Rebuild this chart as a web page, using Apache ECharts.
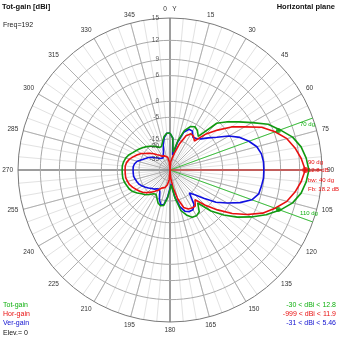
<!DOCTYPE html>
<html><head><meta charset="utf-8">
<script src="https://cdn.jsdelivr.net/npm/echarts@6/dist/echarts.min.js"></script>
<style>html,body{margin:0;padding:0;background:#fff}#c{width:339px;height:339px}</style>
</head><body><div id="c"></div>
<script>
// azimuth angles (deg, clockwise from Y)
const angles = [0,5,10,15,20,25,30,35,40,45,50,55,60,65,70,75,80,85,90,95,100,105,110,115,120,125,130,135,140,145,150,155,160,165,170,175,180,185,190,195,200,205,210,215,220,225,230,235,240,245,250,255,260,265,270,275,280,285,290,295,300,305,310,315,320,325,330,335,340,345,350,355,360];
// gains in dBi
const totGain = [-11.7,-14.4,-25.3,-15.6,-9.3,-6.8,-6.0,-6.8,-8.4,-0.7,1.7,3.8,6.1,8.6,10.1,11.6,12.5,13.0,13.3,13.0,12.5,11.6,10.1,8.2,5.9,3.4,0.4,-3.2,-8.8,-5.6,-4.9,-5.2,-6.8,-9.3,-16.9,-28.7,-28.7,-16.9,-12.2,-11.7,-12.7,-15.0,-16.9,-16.3,-14.4,-12.7,-11.7,-10.2,-8.8,-8.0,-7.6,-7.1,-6.8,-6.8,-6.8,-6.8,-7.1,-7.6,-8.4,-9.7,-10.7,-11.7,-12.7,-13.8,-15.0,-16.3,-17.6,-19.1,-19.1,-16.3,-13.3,-11.7,-11.7];
const horGain = [-999,-40.6,-32.9,-25.3,-16.9,-11.2,-9.3,-9.7,-11.2,-5.6,-1.9,1.7,4.3,7.3,9.2,10.7,11.6,12.3,12.8,12.3,11.6,10.7,9.2,7.5,4.9,1.9,-1.9,-6.0,-10.7,-8.4,-8.4,-8.8,-10.2,-15.6,-25.3,-40.6,-999,-36.4,-28.7,-25.3,-24.2,-23.3,-20.6,-18.3,-16.3,-14.4,-12.7,-11.7,-10.7,-9.7,-8.8,-8.4,-8.0,-8.0,-8.0,-8.0,-8.4,-9.3,-10.7,-12.2,-13.8,-16.3,-18.3,-20.6,-23.3,-25.3,-27.5,-28.7,-28.7,-28.7,-31.4,-40.6,-999];
const verGain = [-11.7,-14.4,-28.7,-16.9,-10.2,-8.0,-8.0,-10.2,-9.7,-8.4,-6.0,-3.5,-0.2,2.2,3.8,5.1,5.7,5.9,5.9,5.9,5.7,5.5,4.5,2.2,-0.7,-3.8,-8.4,-12.7,-15.6,-9.3,-7.6,-7.6,-8.4,-11.2,-17.6,-30.0,-28.7,-17.6,-12.7,-12.2,-15.0,-19.8,-21.5,-20.6,-19.1,-18.3,-16.9,-15.6,-14.4,-13.3,-12.7,-12.2,-11.7,-11.7,-11.7,-11.7,-12.2,-13.3,-15.6,-17.6,-19.1,-21.5,-24.2,-26.3,-28.7,-30.0,-30.0,-28.7,-24.2,-18.3,-13.8,-11.7,-11.7];
// scale rings and their labels (dBi)
const ringDb = [12, 9, 6, 0, -5, -15, -35];
const ringLabels = [15, 12, 9, 6, 0, -5, -15, -20, -35];
// beamwidth / maximum markers
const beamAngles = [70, 110];
const beamDb = [9.8, 9.8];
const peakAngle = 90;
const peakDb = 12.8;

const SCALE_MAX = 15, K = 0.053;
function dbToR(db) { return Math.exp(-K * (SCALE_MAX - db)); }

const FONT = 'Liberation Sans';
const chart = echarts.init(document.getElementById('c'), null, {renderer: 'canvas'});

const circle = [];
for (let a = 0; a <= 360; a += 3) circle.push(a);

function polarDef(i) { return {center: [170, 170], radius: 152}; }
function radiusDef(i) {
  return {polarIndex: i, type: 'value', min: 0, max: 1,
    axisLine: {show: false}, axisTick: {show: false}, axisLabel: {show: false}, splitLine: {show: false}};
}

const series = [];
ringDb.forEach(db => {
  series.push({type: 'line', coordinateSystem: 'polar', polarIndex: 1, silent: true, symbol: 'none',
    data: circle.map(a => [dbToR(db), a]), lineStyle: {color: '#a9a9a9', width: 1}, z: 1});
});
beamAngles.forEach(a => {
  series.push({type: 'line', coordinateSystem: 'polar', polarIndex: 1, silent: true, symbol: 'none',
    data: [[0, a], [dbToR(SCALE_MAX), a]], lineStyle: {color: '#3cc03c', width: 1}, z: 2});
});
series.push({type: 'line', coordinateSystem: 'polar', polarIndex: 1, silent: true, symbol: 'none',
  data: [[0, peakAngle], [dbToR(SCALE_MAX), peakAngle]], lineStyle: {color: '#e8201c', width: 1}, z: 2});

const curves = [[verGain, '#1010e0'], [horGain, '#e81010'], [totGain, '#109a10']];
curves.forEach(([vals, col], i) => {
  series.push({type: 'line', coordinateSystem: 'polar', polarIndex: 1, symbol: 'none',
    data: vals.map((v, j) => [dbToR(v), angles[j]]), lineStyle: {color: col, width: 1.6}, z: 3 + i});
});
series.push({type: 'scatter', coordinateSystem: 'polar', polarIndex: 1, symbolSize: 5,
  itemStyle: {color: '#109a10'}, data: beamAngles.map((a, i) => [dbToR(beamDb[i]), a]), z: 8});
series.push({type: 'scatter', coordinateSystem: 'polar', polarIndex: 1, symbolSize: 6,
  itemStyle: {color: '#e81010'}, data: [[dbToR(peakDb), peakAngle]], z: 8});
series.push({type: 'scatter', coordinateSystem: 'polar', polarIndex: 1, symbolSize: 0, silent: true,
  data: ringLabels.map(v => ({value: [dbToR(v), 0], name: String(v)})),
  label: {show: true, position: 'left', distance: 11, formatter: p => p.name,
    fontSize: 6.5, fontFamily: FONT, color: '#333'}, z: 9});

function txt(text, x, y, color, opts) {
  return Object.assign({type: 'text', x: x, y: y, silent: true, z: 20,
    style: Object.assign({text: text, fill: color, font: '7px "' + FONT + '"',
      textAlign: 'left', textVerticalAlign: 'top', align: 'left', verticalAlign: 'top'}, opts || {})});
}
function rtxt(text, x, y, color, font) {
  return txt(text, x, y, color, {textAlign: 'right', align: 'right', font: font || ('7px "' + FONT + '"')});
}
const small = {font: '6px "' + FONT + '"'};
const bold = {font: 'bold 7.5px "' + FONT + '"'};

chart.setOption({
  animation: false,
  backgroundColor: '#fff',
  polar: [polarDef(0), polarDef(1), polarDef(2)],
  radiusAxis: [radiusDef(0), radiusDef(1), radiusDef(2)],
  angleAxis: [
    {polarIndex: 0, type: 'value', min: 0, max: 360, interval: 5, startAngle: 90, clockwise: true,
      axisLine: {show: false}, axisTick: {show: false}, axisLabel: {show: false},
      splitLine: {show: true, lineStyle: {color: '#e2e2e2', width: 1}}},
    {polarIndex: 1, type: 'value', min: 0, max: 360, interval: 15, startAngle: 90, clockwise: true,
      axisLine: {show: true, lineStyle: {color: '#7a7a7a', width: 1}}, axisTick: {show: false},
      axisLabel: {show: true, margin: 5, fontSize: 6.5, fontFamily: FONT, color: '#333',
        formatter: v => v === 0 ? '0   Y' : String(v)},
      splitLine: {show: true, lineStyle: {color: '#b0b0b0', width: 1}}},
    {polarIndex: 2, type: 'value', min: 0, max: 360, interval: 90, startAngle: 90, clockwise: true,
      axisLine: {show: false}, axisTick: {show: false}, axisLabel: {show: false},
      splitLine: {show: true, lineStyle: {color: '#6a6a6a', width: 1}}}
  ],
  series: series,
  graphic: [
    txt('Tot-gain [dBi]', 2, 3, '#111', bold),
    txt('Freq=192', 3, 22, '#222'),
    rtxt('Horizontal plane', 335, 3, '#111', bold.font),
    txt('Tot-gain', 3, 302, '#10b010'),
    txt('Hor-gain', 3, 311, '#e81010'),
    txt('Ver-gain', 3, 320, '#1010d0'),
    txt('Elev.= 0', 3, 330, '#111'),
    rtxt('-30 < dBi < 12.8', 336, 302, '#10b010'),
    rtxt('-999 < dBi < 11.9', 336, 311, '#e81010'),
    rtxt('-31 < dBi < 5.46', 336, 320, '#1010d0'),
    txt('90 dg', 308, 159, '#e81010', small),
    txt('12.8 dB', 308, 167.5, '#e81010', small),
    txt('bw: 40 dg', 308, 177, '#e81010', small),
    txt('Fb: 18.2 dB', 308, 186, '#e81010', small),
    txt('70 dg', 300, 121, '#10b010', small),
    txt('110 dg', 300, 210, '#10b010', small)
  ]
});
</script></body></html>
